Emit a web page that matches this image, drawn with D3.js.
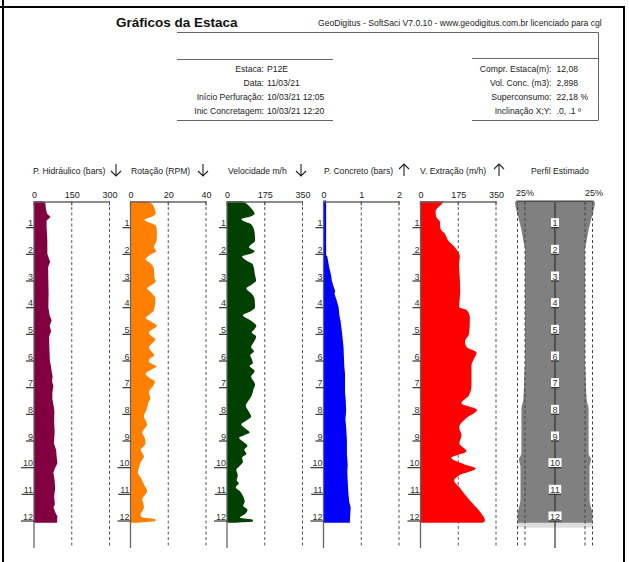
<!DOCTYPE html>
<html>
<head>
<meta charset="utf-8">
<script src="https://cdn.jsdelivr.net/npm/d3@7"></script>
<style>
  body { margin: 0; background: #fff; }
  text { font-family: "Liberation Sans", Arial, sans-serif; }
</style>
</head>
<body>
<div id="chart"></div>
<script>
// header info
const infoLeft = [["Estaca:", "P12E"], ["Data:", "11/03/21"], ["Início Perfuração:", "10/03/21 12:05"], ["Inic Concretagem:", "10/03/21 12:20"]];
const infoRight = [["Compr. Estaca(m):", "12,08"], ["Vol. Conc. (m3):", "2,898"], ["Superconsumo:", "22,18 %"], ["Inclinação X;Y:", ".0, .1 º"]];

const depthTicks = [1, 2, 3, 4, 5, 6, 7, 8, 9, 10, 11, 12];

// [profundidade (m), valor]
const hidraulico = [[0.03,35],[0.08,45],[0.3,47],[0.5,52],[0.62,66],[0.75,50],[1.0,50],[1.5,53],[2.0,53],[2.3,64],[2.5,56],[3.0,57],[3.5,58],[4.0,57],[4.3,62],[4.5,70],[4.7,62],[4.9,68],[5.1,60],[5.5,61],[6.0,63],[6.2,67],[6.4,70],[6.6,74],[6.8,72],[6.95,77],[7.2,73],[7.44,73],[7.7,78],[7.9,81],[8.3,80],[8.7,82],[9.1,79],[9.36,88],[9.6,90],[9.85,93],[10.0,85],[10.2,77],[10.5,82],[10.8,84],[11.1,80],[11.4,83],[11.5,77],[11.7,85],[11.85,93],[12.0,92],[12.08,92]];
const rotacao = [[0.03,9],[0.1,11],[0.25,12.5],[0.5,13.3],[0.62,11],[0.72,7.4],[0.82,9.5],[0.95,13.5],[1.2,14],[1.5,13.8],[1.75,12.4],[1.9,13.5],[2.05,10],[2.2,8],[2.35,10.5],[2.55,12.4],[2.85,12.6],[3.05,13.3],[3.18,11],[3.3,8.8],[3.45,11],[3.7,13.2],[4.1,12.5],[4.28,10],[4.4,8],[4.55,11],[4.7,14],[4.82,12],[4.95,9.7],[5.08,11],[5.2,13.2],[5.35,11.5],[5.5,9.7],[5.65,11],[5.8,12.5],[5.95,10],[6.05,9.7],[6.15,12],[6.22,13.8],[6.35,11],[6.5,8],[6.65,10],[6.8,12.9],[6.95,12],[7.2,9.7],[7.4,10.5],[7.6,9.4],[7.85,8.5],[8.1,7.1],[8.25,8],[8.4,8.8],[8.55,7.5],[8.7,6.2],[8.9,7.5],[9.1,8],[9.25,6.5],[9.35,5.3],[9.5,6.5],[9.6,7.1],[9.8,5.5],[10.0,4.5],[10.2,3.9],[10.35,5],[10.5,6.2],[10.7,7.5],[10.9,8.8],[11.05,7.5],[11.2,6.2],[11.35,6.8],[11.5,7.1],[11.65,6.2],[11.78,5.3],[11.88,6],[11.95,13.2],[12.02,13.2],[12.08,3]];
const velocidade = [[0.03,74],[0.15,95],[0.3,113],[0.5,128],[0.6,110],[0.7,67],[0.8,85],[0.9,113],[1.2,128],[1.5,130],[1.75,102],[1.9,128],[2.0,110],[2.1,70],[2.25,90],[2.4,120],[2.8,130],[3.0,135],[3.15,115],[3.3,90],[3.5,115],[3.7,128],[4.0,130],[4.15,110],[4.3,74],[4.5,110],[4.7,136],[4.85,125],[4.95,115],[5.1,135],[5.3,125],[5.5,112],[5.65,125],[5.8,108],[5.95,115],[6.1,120],[6.2,105],[6.4,128],[6.6,112],[6.9,130],[7.1,122],[7.3,115],[7.5,100],[7.7,87],[7.9,100],[8.1,112],[8.25,90],[8.4,66],[8.55,85],[8.7,105],[8.8,80],[8.9,56],[9.05,75],[9.2,95],[9.35,80],[9.5,90],[9.65,70],[9.8,74],[9.95,60],[10.1,43],[10.3,50],[10.5,45],[10.6,55],[10.75,40],[10.9,60],[11.1,75],[11.3,82],[11.45,75],[11.6,95],[11.75,85],[11.9,60],[11.97,120],[12.04,120],[12.08,40]];
const concreto = [[0.0,0.07],[2.05,0.07],[2.1,0.1],[2.5,0.15],[2.8,0.2],[3.0,0.22],[3.2,0.26],[3.4,0.31],[3.5,0.29],[3.7,0.34],[4.0,0.4],[4.3,0.42],[4.5,0.45],[4.95,0.49],[5.5,0.53],[6.2,0.55],[6.5,0.57],[7.2,0.57],[7.5,0.59],[7.9,0.6],[8.2,0.58],[8.5,0.6],[9.0,0.62],[9.5,0.62],[9.9,0.64],[10.2,0.63],[10.5,0.64],[11.0,0.66],[11.3,0.68],[11.5,0.72],[12.0,0.7],[12.08,0.7]];
const extracao = [[0.03,105],[0.12,100],[0.2,90],[0.4,70],[0.6,72],[0.8,90],[1.05,92],[1.25,113],[1.5,128],[1.75,159],[2.1,182],[2.4,178],[2.9,182],[3.4,184],[4.0,179],[4.1,213],[4.4,229],[5.0,225],[5.3,206],[5.5,215],[5.7,260],[6.0,244],[6.2,236],[6.95,236],[7.3,225],[7.6,190],[7.85,262],[8.2,206],[8.5,179],[8.8,190],[9.1,180],[9.4,213],[9.65,143],[9.9,205],[10.05,256],[10.3,180],[10.5,156],[10.75,180],[11.25,229],[11.75,283],[12.0,299],[12.08,290]];
// perfil estimado: variação do raio em %
const perfil = [[0.0,30],[0.1,33],[0.3,30],[0.6,23],[1.1,12],[1.6,4],[1.8,0],[6.0,0],[6.5,2],[7.5,6],[7.8,12],[9.5,12],[9.7,20],[10.0,15],[11.2,15],[11.8,25],[12.08,25]];

const panels = [
  {title: "P. Hidráulico (bars)", arrow: "down", max: 300, ticks: [0, 150, 300], color: "#800040", data: hidraulico, titleX: 33, arrowX: 116, curve: d3.curveLinear},
  {title: "Rotação (RPM)", arrow: "down", max: 40, ticks: [0, 20, 40], color: "#ff8000", data: rotacao, titleX: 131, arrowX: 203, curve: d3.curveMonotoneY},
  {title: "Velocidade m/h", arrow: "down", max: 350, ticks: [0, 175, 350], color: "#004000", data: velocidade, titleX: 228, arrowX: 301, curve: d3.curveMonotoneY},
  {title: "P. Concreto (bars)", arrow: "up", max: 2, ticks: [0, 1, 2], color: "#0000ff", data: concreto, titleX: 324, arrowX: 404, curve: d3.curveLinear},
  {title: "V. Extração (m/h)", arrow: "up", max: 350, ticks: [0, 175, 350], color: "#ff0000", data: extracao, titleX: 420, arrowX: 499, curve: d3.curveMonotoneY}
];

const W = 629, H = 562;
const panelLeft = [34, 130.5, 227, 323.5, 420.5];
const panelW = 75.5;
const axisY = 201.5, lineBottom = 548;

const svg = d3.select("#chart").append("svg")
  .attr("width", W).attr("height", H);

const y = d3.scaleLinear().domain([0, 12]).range([200.5, 520.5]);

// frame
svg.append("line").attr("x1", 3).attr("x2", 3).attr("y1", 0).attr("y2", H).attr("stroke", "#000").attr("stroke-width", 2);
svg.append("line").attr("x1", 0).attr("x2", 625).attr("y1", 7).attr("y2", 7).attr("stroke", "#000").attr("stroke-width", 2);
svg.append("line").attr("x1", 624).attr("x2", 624).attr("y1", 7).attr("y2", H).attr("stroke", "#000").attr("stroke-width", 2);

// title
svg.append("text").attr("x", 116).attr("y", 27).attr("font-size", 13.5).attr("font-weight", "bold")
  .attr("fill", "#111").text("Gráficos da Estaca");
svg.append("text").attr("x", 318).attr("y", 26).attr("font-size", 8.6).attr("fill", "#222")
  .text("GeoDigitus - SoftSaci V7.0.10 - www.geodigitus.com.br licenciado para cgl");

// info boxes
const boxStroke = "#666";
svg.append("path").attr("d", "M177,32.5H598.5V120").attr("fill", "none").attr("stroke", boxStroke);
svg.append("path").attr("d", "M177,59.5H333M177,120.5H333").attr("fill", "none").attr("stroke", boxStroke);
svg.append("path").attr("d", "M472,58.5H598.5M472,120.5H598.5").attr("fill", "none").attr("stroke", boxStroke);

const rowY = [71.5, 85.5, 100, 113.5];
const info = (rows, xl, xv) => {
  const g = svg.append("g").attr("font-size", 8.6).attr("fill", "#222");
  g.selectAll(".lab").data(rows).join("text").attr("x", xl).attr("y", (d, i) => rowY[i])
    .attr("text-anchor", "end").text(d => d[0]);
  g.selectAll(".val").data(rows).join("text").attr("x", xv).attr("y", (d, i) => rowY[i])
    .text(d => d[1]);
};
info(infoLeft, 264, 267);
info(infoRight, 551.5, 556.5);

function arrow(x, dir) {
  const y0 = 164, y1 = 176;
  const tip = dir === "down" ? y1 : y0;
  const s = dir === "down" ? -1 : 1;
  svg.append("path")
    .attr("d", `M${x},${y0}V${y1}M${x - 5},${tip + s * 5}L${x},${tip}L${x + 5},${tip + s * 5}`)
    .attr("fill", "none").attr("stroke", "#222").attr("stroke-width", 1.1);
}

function depthLabels(xRight, anchor) {
  const g = svg.append("g");
  depthTicks.forEach(d => {
    const t = g.append("text").attr("font-size", 9).attr("fill", "#333")
      .attr("y", y(d) - 1).text(d);
    if (anchor === "end") {
      t.attr("x", xRight - 1).attr("text-anchor", "end");
      const w = t.node().getComputedTextLength();
      g.append("line").attr("x1", xRight - w - 3).attr("x2", xRight).attr("y1", y(d) + 0.5).attr("y2", y(d) + 0.5)
        .attr("stroke", "#333").attr("stroke-width", 1.2);
    } else {
      t.attr("x", xRight).attr("text-anchor", "middle");
      const w = t.node().getComputedTextLength();
      g.insert("rect", "text").attr("x", xRight - w / 2 - 1.5).attr("y", y(d) - 9).attr("width", w + 3).attr("height", 9)
        .attr("fill", "#fff");
      g.append("line").attr("x1", xRight - w / 2 - 1.5).attr("x2", xRight + w / 2 + 1.5).attr("y1", y(d) + 0.5).attr("y2", y(d) + 0.5)
        .attr("stroke", "#333").attr("stroke-width", 1.2);
    }
  });
  g.selectAll("text").raise();
}

panels.forEach((p, i) => {
  const x0 = panelLeft[i];
  const x = d3.scaleLinear().domain([0, p.max]).range([x0, x0 + panelW]);

  svg.append("text").attr("x", p.titleX).attr("y", 174).attr("font-size", 8.6).attr("fill", "#222").text(p.title);
  arrow(p.arrowX, p.arrow);

  // dashed grid
  svg.append("g").selectAll("line").data(p.ticks.slice(1)).join("line")
    .attr("x1", d => x(d)).attr("x2", d => x(d)).attr("y1", axisY).attr("y2", lineBottom)
    .attr("stroke", "#555").attr("stroke-dasharray", "3,2.5");

  svg.append("path").datum(p.data)
    .attr("d", d3.area().y(d => y(d[0])).x0(x(0)).x1(d => x(d[1])).curve(p.curve))
    .attr("fill", p.color);

  // left axis line
  svg.append("line").attr("x1", x(0)).attr("x2", x(0)).attr("y1", axisY).attr("y2", lineBottom)
    .attr("stroke", "#666").attr("stroke-width", 1.3);

  const ax = svg.append("g").attr("transform", `translate(0,${axisY})`)
    .call(d3.axisTop(x).tickValues(p.ticks).tickSize(0).tickPadding(4).tickFormat(d3.format("d")));
  ax.select(".domain").attr("stroke", "#666").attr("stroke-width", 1.3);
  ax.selectAll("text").attr("font-size", 9).attr("fill", "#222").attr("font-family", "Liberation Sans, Arial, sans-serif");
  svg.append("g").selectAll("line").data(p.ticks).join("line")
    .attr("x1", d => x(d)).attr("x2", d => x(d)).attr("y1", axisY).attr("y2", axisY + 4)
    .attr("stroke", "#555");

  depthLabels(x0, "end");
});

// perfil estimado
const cx = 555;
const r = d3.scaleLinear().domain([0, 25]).range([30, 37.5]);
svg.append("text").attr("x", 560).attr("y", 174).attr("font-size", 8.6).attr("fill", "#222")
  .attr("text-anchor", "middle").text("Perfil Estimado");
// faixas claras no topo e no pé
svg.append("rect").attr("x", cx - r(25)).attr("y", axisY).attr("width", r(25) * 2).attr("height", 3)
  .attr("fill", "#ddd");
svg.append("rect").attr("x", cx - r(25)).attr("y", y(12.08) - 2).attr("width", r(25) * 2).attr("height", 7)
  .attr("fill", "#ddd");
svg.append("path").datum(perfil)
  .attr("d", d3.area().y(d => y(d[0])).x0(d => cx - r(d[1])).x1(d => cx + r(d[1])).curve(d3.curveMonotoneY))
  .attr("fill", "#808080");
svg.append("g").selectAll("line").data([-r(25), -r(0), r(0), r(25)])
  .join("line")
  .attr("x1", d => cx + d).attr("x2", d => cx + d).attr("y1", axisY).attr("y2", lineBottom)
  .attr("stroke", "#444").attr("stroke-dasharray", "3,2.5");
svg.append("line").attr("x1", cx).attr("x2", cx).attr("y1", axisY).attr("y2", lineBottom)
  .attr("stroke", "#333").attr("stroke-width", 1.2);
svg.append("line").attr("x1", cx - r(25)).attr("x2", cx + r(25)).attr("y1", axisY).attr("y2", axisY)
  .attr("stroke", "#555").attr("stroke-width", 1.3);
svg.append("g").selectAll("line").data([-r(25), -r(0), 0, r(0), r(25)]).join("line")
  .attr("x1", d => cx + d).attr("x2", d => cx + d).attr("y1", axisY).attr("y2", axisY + 4)
  .attr("stroke", "#555");
svg.append("text").attr("x", 516).attr("y", 196).attr("font-size", 9).attr("fill", "#222").text("25%");
svg.append("text").attr("x", 603).attr("y", 196).attr("font-size", 9).attr("fill", "#222").attr("text-anchor", "end").text("25%");
depthLabels(cx, "middle");
</script>
</body>
</html>
